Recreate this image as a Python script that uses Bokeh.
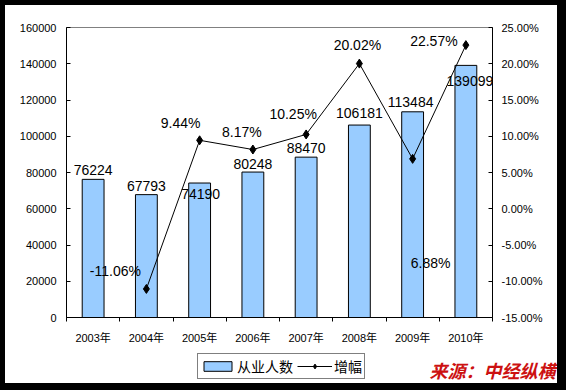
from bokeh.plotting import figure
from bokeh.layouts import column
from bokeh.models import (Range1d, LinearAxis, FixedTicker, PrintfTickFormatter,
                          BasicTickFormatter, Legend, LegendItem, Label, ColumnDataSource)
from bokeh.core.properties import value
from bokeh.embed import file_html
from bokeh.resources import INLINE

# ---- data ----
years = ["2003年", "2004年", "2005年", "2006年", "2007年", "2008年", "2009年", "2010年"]
employees = [76224, 67793, 74190, 80248, 88470, 106181, 113484, 139099]
growth_years = ["2004年", "2005年", "2006年", "2007年", "2008年", "2009年", "2010年"]
growth = [-11.06, 9.44, 8.17, 10.25, 20.02, 6.88, 22.57]
left_ticks = [0, 20000, 40000, 60000, 80000, 100000, 120000, 140000, 160000]
right_ticks = [-15, -10, -5, 0, 5, 10, 15, 20, 25]
series_names = ["从业人数", "增幅"]
source_text = "来源：中经纵横"

# ---- label placement (pixels, screen) ----
bar_lbl_dx = [0, 0, 1, 0, 0, 0, -2, 4]
bar_lbl_dy = [-9, -9, 11, -8, -9, -12, -10, 16]
pct_lbl_dx = [-31, -19, -11, -13, -2, 18, -32]
pct_lbl_dy = [-18, -17, -18, -20, -19, 104, -4]

FONT = "Liberation Sans"
CJK = "Noto Sans CJK SC"
BAR = "#99CCFF"

W, H1, H2 = 552, 342, 36

xs = [i + 0.5 for i in range(len(years))]
gx = [xs[years.index(y)] for y in growth_years]

p = figure(width=W, height=H1, x_range=Range1d(0, len(years)),
           y_range=Range1d(left_ticks[0], left_ticks[-1]),
           output_backend="svg", toolbar_location=None,
           min_border_left=61, min_border_right=65, min_border_top=22, min_border_bottom=30)
p.frame_align = False
p.margin = (5, 0, 0, 5)
p.styles = {"box-shadow": "-9px 0 0 0 black, 9px 0 0 0 black, 0 -9px 0 0 black, "
                          "-9px -9px 0 0 black, 9px -9px 0 0 black"}
p.grid.visible = False
p.outline_line_color = "#808080"
p.background_fill_color = "white"
p.border_fill_color = "white"

p.extra_y_ranges = {"pct": Range1d(right_ticks[0], right_ticks[-1])}

# x axis
xa = p.xaxis[0]
xa.ticker = FixedTicker(ticks=xs, minor_ticks=list(range(len(years) + 1)))
xa.major_label_overrides = {x: y for x, y in zip(xs, years)}
xa.major_tick_line_color = None
xa.major_tick_out = 0
xa.major_tick_in = 0
xa.minor_tick_out = 4
xa.minor_tick_in = 0
xa.minor_tick_line_color = "black"
xa.axis_line_color = "black"
xa.major_label_standoff = 10
xa.major_label_text_font = f"{FONT}, {CJK}"
xa.major_label_text_font_size = "11px"
xa.major_label_text_color = "black"

# left axis
ya = p.yaxis[0]
ya.ticker = FixedTicker(ticks=left_ticks)
ya.formatter = BasicTickFormatter(use_scientific=False)
ya.major_tick_out = 0
ya.major_tick_in = 4
ya.minor_tick_line_color = None
ya.axis_line_color = "black"
ya.major_label_standoff = 10
ya.major_label_text_font = FONT
ya.major_label_text_font_size = "11px"
ya.major_label_text_color = "black"

# right axis
ra = LinearAxis(y_range_name="pct", ticker=FixedTicker(ticks=right_ticks),
                formatter=PrintfTickFormatter(format="%.2f%%"))
ra.major_tick_out = 0
ra.major_tick_in = 4
ra.minor_tick_line_color = None
ra.axis_line_color = "black"
ra.major_label_standoff = 9
ra.major_label_text_font = FONT
ra.major_label_text_font_size = "11px"
ra.major_label_text_color = "black"
p.add_layout(ra, "right")

src = ColumnDataSource(dict(x=xs, v=employees, lbl=[str(v) for v in employees],
                            dx=bar_lbl_dx, dy=bar_lbl_dy))
p.vbar(x="x", top="v", bottom=0, width=0.41, source=src,
       fill_color=BAR, line_color="black", line_width=1)
p.text(x="x", y="v", text="lbl", x_offset="dx", y_offset="dy", source=src,
       text_align="center", text_baseline="middle", text_font=value(FONT),
       text_font_size="14px", text_color="black")

gsrc = ColumnDataSource(dict(x=gx, g=growth, lbl=[f"{g:.2f}%" for g in growth],
                             dx=pct_lbl_dx, dy=pct_lbl_dy))
p.line(x="x", y="g", source=gsrc, y_range_name="pct", line_color="black", line_width=1)
p.scatter(x="x", y="g", source=gsrc, y_range_name="pct", marker="diamond",
          size=9, fill_color="black", line_color="black")
p.text(x="x", y="g", text="lbl", x_offset="dx", y_offset="dy", source=gsrc,
       y_range_name="pct", text_align="center", text_baseline="middle",
       text_font=value(FONT), text_font_size="14px", text_color="black")

# ---- bottom strip: legend + source ----
p2 = figure(width=W, height=H2, x_range=Range1d(0, W), y_range=Range1d(0, H2),
            output_backend="svg", toolbar_location=None,
            x_axis_location=None, y_axis_location=None, min_border=0)
p2.frame_align = False
p2.margin = (0, 0, 0, 5)
p2.styles = {"box-shadow": "-9px 0 0 0 black, 9px 0 0 0 black, 0 9px 0 0 black, "
                           "-9px 9px 0 0 black, 9px 9px 0 0 black"}
p2.grid.visible = False
p2.outline_line_color = None
p2.background_fill_color = "white"
p2.border_fill_color = "white"

# legend-only renderers (one invisible NaN point so the legend glyphs get their styles)
dummy = ColumnDataSource(dict(x=[float("nan")], y=[float("nan")]))
lb = p2.vbar(x="x", top="y", width=1, source=dummy, fill_color=BAR, line_color="black")
ll = p2.line(x="x", y="y", source=dummy, line_color="black", line_width=1)
lm = p2.scatter(x="x", y="y", source=dummy, marker="diamond", size=8,
                fill_color="black", line_color="black")

legend = Legend(items=[LegendItem(label=series_names[0], renderers=[lb]),
                       LegendItem(label=series_names[1], renderers=[ll, lm])],
                orientation="horizontal", location=(192, 4),
                border_line_color="black", border_line_width=1,
                background_fill_color="white", background_fill_alpha=1,
                label_text_font=CJK, label_text_font_size="14px",
                label_text_color="black", glyph_width=35, glyph_height=12,
                label_height=12, label_standoff=2, spacing=4, padding=2, margin=0)
p2.add_layout(legend)

p2.add_layout(Label(x=550, y=1, text=source_text, text_align="right",
                    text_baseline="bottom", text_font=CJK, text_font_size="18px",
                    text_font_style="bold italic", text_color="#CC1111"))

layout = column(p, p2, spacing=0)
open("out.html", "w").write(file_html(layout, INLINE))
